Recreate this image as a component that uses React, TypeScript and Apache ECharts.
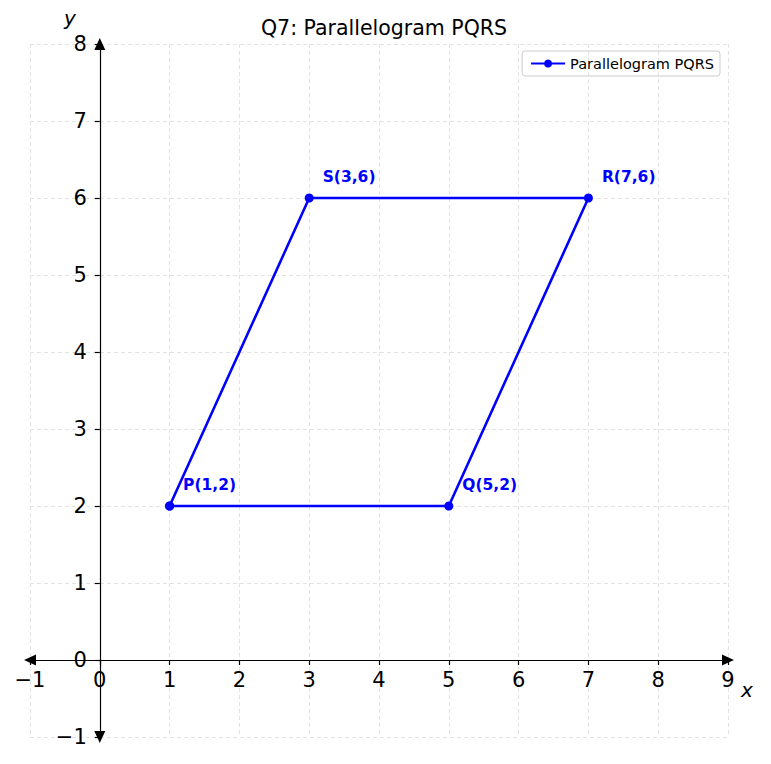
import { useEffect, useRef } from 'react'
import * as echarts from 'echarts'

// ─── data ───
const vertexNames = ['P', 'Q', 'R', 'S']
const vertexX = [1, 5, 7, 3]
const vertexY = [2, 2, 6, 6]
const seriesName = 'Parallelogram PQRS'
const chartTitle = 'Q7: Parallelogram PQRS'
const xRange = [-1, 9]
const yRange = [-1, 8]

const BLUE = '#0000ff'
const FONT = 'DejaVu Sans'
const W = 771
const H = 764
const GRID = { left: 30, right: 43, top: 44, bottom: 27 }
const minus = (v: number) => String(v).replace('-', '\u2212')

export default function App() {
  const ref = useRef<HTMLDivElement>(null)

  useEffect(() => {
    if (!ref.current) return
    const chart = echarts.init(ref.current, undefined, { renderer: 'svg' })

    // closed outline: P → Q → R → S → P
    const pts = vertexX.map((x, i) => [x, vertexY[i]])
    const data = [...pts, pts[0]]

    // axes cross at the origin: shift each axis (line, ticks, labels) onto zero
    const gw = W - GRID.left - GRID.right
    const gh = H - GRID.top - GRID.bottom
    const xZeroOff = ((0 - xRange[0]) / (xRange[1] - xRange[0])) * gw
    const yZeroOff = ((0 - yRange[0]) / (yRange[1] - yRange[0])) * gh

    const axisCommon = {
      type: 'value' as const,
      interval: 1,
      axisLine: {
        onZero: false,
        symbol: ['triangle', 'triangle'],
        symbolSize: [11, 12],
        lineStyle: { color: '#000', width: 1.2 },
      },
      axisTick: { length: 5, lineStyle: { color: '#000', width: 1.2 } },
      axisLabel: { color: '#000', fontSize: 21, fontFamily: FONT, formatter: minus },
      splitLine: { show: true, lineStyle: { color: '#e3e3e3', type: [4, 3], width: 1 } },
    }

    chart.setOption({
      animation: false,
      textStyle: { fontFamily: FONT },
      title: {
        text: chartTitle,
        left: 379,
        textAlign: 'center',
        top: 12,
        textStyle: { fontSize: 20.5, fontWeight: 'normal', color: '#000', fontFamily: FONT },
      },
      legend: {
        data: [seriesName],
        right: 51,
        top: 51,
        orient: 'vertical',
        borderColor: '#cccccc',
        borderWidth: 1,
        borderRadius: 3,
        padding: [5, 6, 5, 8],
        itemWidth: 34,
        itemHeight: 10,
        itemGap: 4,
        textStyle: { fontSize: 14.5, color: '#000', fontFamily: FONT },
      },
      grid: { ...GRID, outerBoundsMode: 'none', containLabel: false },
      xAxis: {
        ...axisCommon,
        min: xRange[0],
        max: xRange[1],
        position: 'bottom',
        offset: -yZeroOff,
        axisLabel: { ...axisCommon.axisLabel, margin: 9 },
      },
      yAxis: {
        ...axisCommon,
        min: yRange[0],
        max: yRange[1],
        position: 'left',
        offset: -xZeroOff,
        axisLabel: { ...axisCommon.axisLabel, margin: 13 },
      },
      graphic: [
        { type: 'text', left: 741, top: 680, style: { text: 'x', fontSize: 20, fontStyle: 'italic', fontFamily: FONT, fill: '#000' } },
        { type: 'text', left: 64, top: 8, style: { text: 'y', fontSize: 20, fontStyle: 'italic', fontFamily: FONT, fill: '#000' } },
      ],
      series: [
        {
          name: seriesName,
          type: 'line',
          data,
          symbol: 'circle',
          symbolSize: 9,
          color: BLUE,
          lineStyle: { color: BLUE, width: 2.6 },
          itemStyle: { color: BLUE },
          label: {
            show: true,
            position: [18, -17],
            align: 'left',
            verticalAlign: 'middle',
            color: BLUE,
            fontWeight: 'bold',
            fontSize: 15.5,
            fontFamily: FONT,
            formatter: (p: any) =>
              p.dataIndex < vertexNames.length
                ? `${vertexNames[p.dataIndex]}(${p.value[0]},${p.value[1]})`
                : '',
          },
          z: 5,
        },
      ],
    })

    return () => chart.dispose()
  }, [])

  return (
    <div
      ref={ref}
      style={{ position: 'fixed', left: 0, top: 0, width: W, height: H, background: '#fff' }}
    />
  )
}
